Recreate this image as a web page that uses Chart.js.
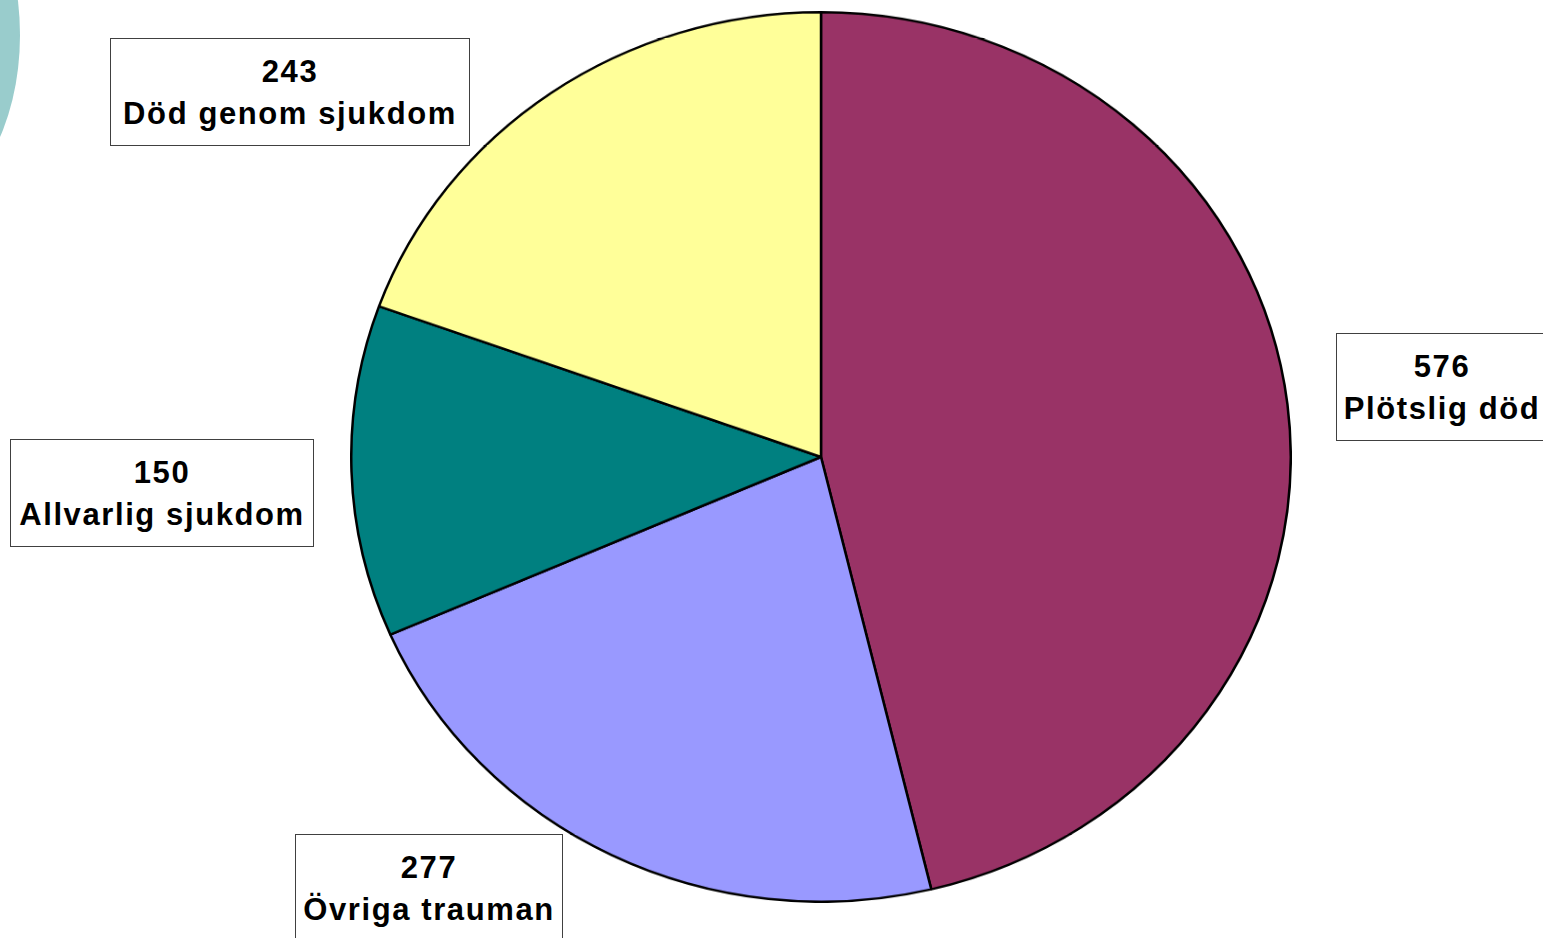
<!DOCTYPE html>
<html>
<head>
<meta charset="utf-8">
<script src="https://cdn.jsdelivr.net/npm/chart.js@4/dist/chart.umd.min.js"></script>
<style>
    html, body { margin: 0; padding: 0; background: #ffffff; }
    body { width: 1543px; height: 938px; position: relative; overflow: hidden; }
    #deco {
        position: absolute; left: -180px; top: -135px; width: 200px; height: 340px;
        border-radius: 50%; background: #99cccc;
    }
    #pieWrap {
        position: absolute; left: 350px; top: 11px; width: 942px; height: 942px;
        transform: scaleY(0.9468); transform-origin: 0 0;
    }
    .lbl {
        position: absolute; box-sizing: border-box; background: #ffffff;
        border: 1px solid #404040; text-align: center; white-space: nowrap;
        font-family: "Liberation Sans", Arial, sans-serif; font-weight: bold;
        font-size: 31px; letter-spacing: 1.6px; color: #000000; line-height: 42px;
        padding-top: 12px;
    }
</style>
</head>
<body>
<div id="deco"></div>
<div id="pieWrap"><canvas id="pieChart" width="942" height="942"></canvas></div>

<script>
// Chart data (clockwise from 12 o'clock)
const categories = ['Plötslig död', 'Övriga trauman', 'Allvarlig sjukdom', 'Död genom sjukdom'];
const counts = [576, 277, 150, 243];
const sliceColors = ['#993366', '#9999ff', '#008080', '#ffff99'];

// Label box placement (left, top, width, height)
const boxLayout = [
    [1336, 333, 212, 108],
    [295, 834, 268, 120],
    [10, 439, 304, 108],
    [110, 38, 360, 108]
];

const ctx = document.getElementById('pieChart').getContext('2d');
const pieChart = new Chart(ctx, {
    type: 'pie',
    data: {
        labels: categories,
        datasets: [{
            data: counts,
            backgroundColor: sliceColors,
            borderColor: '#000000',
            borderWidth: 2.5
        }]
    },
    options: {
        responsive: false,
        animation: false,
        layout: { padding: 0 },
        plugins: {
            legend: { display: false },
            tooltip: { enabled: false }
        }
    }
});

// Value / category boxes
categories.forEach((name, i) => {
    const [x, y, w, h] = boxLayout[i];
    const div = document.createElement('div');
    div.className = 'lbl';
    div.style.left = x + 'px';
    div.style.top = y + 'px';
    div.style.width = w + 'px';
    div.style.height = h + 'px';
    div.innerHTML = counts[i] + '<br>' + name;
    document.body.appendChild(div);
});
</script>
</body>
</html>
